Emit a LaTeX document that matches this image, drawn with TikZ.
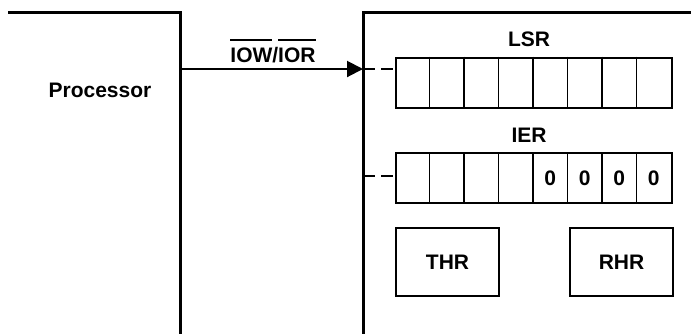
\documentclass[tikz,border=0pt]{standalone}
\usepackage{fontspec}
\setmainfont{Liberation Sans}
\usetikzlibrary{arrows.meta}
\tikzstyle{frame} = [draw, line width=1.5pt]
\tikzstyle{reg} = [draw, line width=1pt, minimum width=138pt, minimum height=25pt, inner sep=0pt]
\tikzstyle{hold} = [draw, line width=1pt, minimum width=51.5pt, minimum height=34pt, inner sep=0pt]
\tikzstyle{tap} = [draw, line width=0.6pt, dash pattern=on 6pt off 3pt]
\newcommand{\barsig}[1]{\setbox0\hbox{#1}\rlap{\rule[\dimexpr\ht0+3pt\relax]{\wd0}{1.2pt}}\box0}

\begin{document}
\begin{tikzpicture}[x=0.5pt,y=-0.5pt]
	\tikzstyle{every node}=[font=\fontsize{10.5}{12}\selectfont\bfseries]
	\useasboundingbox (0,0) rectangle (691,334);

	% ------------------- Processor and peripheral edges ------------------- %
	\draw[frame] (8,12) -- (180,12) -- (180,334);
	\draw[frame] (691,12) -- (363,12) -- (363,334);
	\node[anchor=base] (proc) at (100,97) {Processor};

	% ------------------- Bus arrow ------------------- %
	\coordinate (busout) at (180,69);
	\coordinate (busin) at (363,69);
	\draw[line width=1pt, -{Triangle[length=8pt,width=8pt]}] (busout) -- (busin);
	\node[anchor=base] (bus) at (273,62) {\barsig{IOW}/\barsig{IOR}};

	% ------------------- Registers ------------------- %
	\node[reg] (lsr) at (534,82.5) {};
	\node[anchor=base] (lsrname) at (529,46) {LSR};
	\node[reg] (ier) at (534,178) {};
	\node[anchor=base] (iername) at (529,142) {IER};
	\foreach \i in {1,...,7} {
		\draw[line width=0.6pt] ([xshift=\i*17.25pt]lsr.north west) -- ([xshift=\i*17.25pt]lsr.south west);
		\draw[line width=0.6pt] ([xshift=\i*17.25pt]ier.north west) -- ([xshift=\i*17.25pt]ier.south west);
	}
	\foreach \i in {5,...,8}
		\node (zero\i) at ([xshift=(\i-0.5)*17.25pt]ier.west) {0};

	% ------------------- Dashed taps ------------------- %
	\coordinate (iertap) at (363,176);
	\draw[tap] (busin) -- (busin -| lsr.west);
	\draw[tap] (iertap) -- (iertap -| ier.west);

	% ------------------- Holding registers ------------------- %
	\node[hold] (thr) at (447.5,262) {THR};
	\node[hold] (rhr) at (621.5,262) {RHR};
\end{tikzpicture}
\end{document}
